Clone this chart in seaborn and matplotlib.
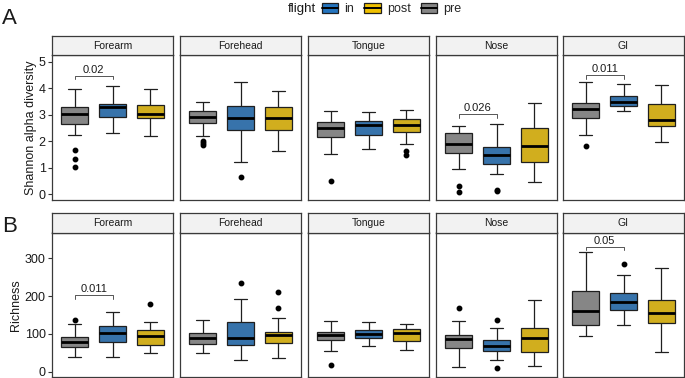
import numpy as np
import pandas as pd
import matplotlib
matplotlib.use("Agg")
import matplotlib.pyplot as plt
from matplotlib.patches import Patch
from matplotlib.lines import Line2D
import seaborn as sns

sites = ["Forearm", "Forehead", "Tongue", "Nose", "GI"]
groups = ["pre", "in", "post"]
colores = {"pre": "#868686", "in": "#2474BE", "post": "#EFC000"}

# resumen de cinco numeros por sitio: [bigote bajo, Q1, mediana, Q3, bigote alto]
shannon_pre = [[2.22, 2.63, 3.04, 3.27, 3.96], [2.20, 2.69, 2.90, 3.12, 3.47],
               [1.52, 2.14, 2.51, 2.74, 3.15], [0.94, 1.55, 1.91, 2.30, 2.58],
               [2.22, 2.86, 3.20, 3.43, 4.24]]
shannon_in = [[2.29, 2.90, 3.30, 3.42, 4.07], [1.23, 2.41, 2.89, 3.34, 4.22],
              [1.70, 2.25, 2.60, 2.75, 3.10], [0.77, 1.14, 1.48, 1.77, 2.66],
              [3.12, 3.34, 3.49, 3.69, 4.17]]
shannon_post = [[2.20, 2.86, 3.04, 3.37, 3.96], [1.63, 2.42, 2.88, 3.27, 3.89],
                [1.88, 2.36, 2.61, 2.83, 3.19], [0.45, 1.23, 1.82, 2.51, 3.43],
                [1.96, 2.59, 2.80, 3.42, 4.10]]
shannon_out_pre = [[1.65, 1.31, 1.02], [2.00, 1.92, 1.85], [0.48], [0.29, 0.10], [1.81]]
shannon_out_in = [[], [0.65], [], [0.17, 0.12], []]
shannon_out_post = [[], [], [1.62, 1.47], [], []]

richness_pre = [[39, 64, 79, 91, 125], [50, 74, 89, 102, 136],
                [56, 83, 97, 106, 133], [12, 62, 86, 97, 135],
                [95, 123, 161, 213, 317]]
richness_in = [[39, 78, 101, 122, 159], [32, 71, 88, 131, 192],
               [67, 88, 99, 111, 131], [30, 55, 68, 84, 116],
               [123, 162, 184, 209, 256]]
richness_post = [[49, 70, 94, 111, 132], [37, 77, 96, 104, 142],
                 [58, 82, 102, 113, 127], [16, 53, 89, 116, 190],
                 [51, 130, 156, 189, 274]]
richness_out_pre = [[138], [], [19], [168], []]
richness_out_in = [[], [235], [], [136, 9], [284]]
richness_out_post = [[178], [212, 168], [], [], []]

# comparaciones significativas: (sitio, altura, p)
shannon_sig = [("Forearm", 4.47, "0.02"), ("Nose", 3.02, "0.026"), ("GI", 4.50, "0.011")]
richness_sig = [("Forearm", 202, "0.011"), ("GI", 330, "0.05")]


def expandir(resumen, atipicos):
    # valores repetidos para que los cuartiles caigan exactamente en el resumen
    lo, q1, med, q3, hi = resumen
    return list(atipicos) + [lo] + [q1] * 10 + [med] * 10 + [q3] * 10 + [hi]


def armar_df(pre, inn, post, out_pre, out_in, out_post):
    filas = []
    for i, s in enumerate(sites):
        for g, res, out in [("pre", pre, out_pre), ("in", inn, out_in), ("post", post, out_post)]:
            for v in expandir(res[i], out[i]):
                filas.append({"site": s, "flight": g, "value": v})
    return pd.DataFrame(filas)


df_shannon = armar_df(shannon_pre, shannon_in, shannon_post,
                      shannon_out_pre, shannon_out_in, shannon_out_post)
df_rich = armar_df(richness_pre, richness_in, richness_post,
                   richness_out_pre, richness_out_in, richness_out_post)

sns.set_theme(style="white")
plt.rcParams["font.family"] = ["Liberation Sans", "DejaVu Sans"]

W, H = 685, 378
fig = plt.figure(figsize=(W / 100, H / 100), dpi=100)

lefts = [52, 180, 308, 436, 563]
ancho = 121
borde = "#3a3a3a"


def fila(df, sig, top_strip, top_body, bottom_body, ylim, yticks, ylabel, label_x):
    for j, s in enumerate(sites):
        x0 = lefts[j] / W
        ax = fig.add_axes([x0, 1 - bottom_body / H, ancho / W, (bottom_body - top_body) / H])
        sub = df[df["site"] == s]
        sns.boxplot(data=sub, x="flight", y="value", hue="flight", order=groups,
                    hue_order=groups, palette=colores, width=0.72, linecolor="#1f1f1f",
                    linewidth=0.9, legend=False, ax=ax,
                    flierprops=dict(marker="o", markerfacecolor="black",
                                    markeredgecolor="black", markersize=3.2),
                    medianprops=dict(linewidth=2.0, color="black"))
        ax.set_xlim(-0.6, 2.6)
        ax.set_ylim(*ylim)
        ax.set_xlabel("")
        ax.set_xticks([])
        ax.set_yticks(yticks)
        for sp in ax.spines.values():
            sp.set_color(borde)
            sp.set_linewidth(0.9)
        if j == 0:
            ax.tick_params(axis="y", left=True, length=3, width=0.8, color="#333333",
                           labelsize=9, labelcolor="#1a1a1a", pad=1.5)
            ax.set_ylabel(ylabel, fontsize=9, color="#1a1a1a")
            ax.yaxis.set_label_coords(label_x, 0.5)
        else:
            ax.set_yticklabels([])
            ax.tick_params(axis="y", left=False)
            ax.set_ylabel("")
        for sitio, yv, p in sig:
            if sitio == s:
                dy = (ylim[1] - ylim[0]) * 0.025
                ax.plot([0, 0, 1, 1], [yv - dy, yv, yv, yv - dy], color="#555555", lw=0.7)
                ax.text(0.5, yv + dy * 0.3, p, ha="center", va="bottom", fontsize=8,
                        color="#1a1a1a")
        # tira con el nombre del sitio
        st = fig.add_axes([x0, 1 - top_body / H, ancho / W, (top_body - top_strip) / H])
        st.set_facecolor("#F2F2F2")
        st.set_xticks([])
        st.set_yticks([])
        for sp in st.spines.values():
            sp.set_color(borde)
            sp.set_linewidth(0.9)
        st.text(0.5, 0.48, s, ha="center", va="center", fontsize=7.5, color="#1a1a1a",
                transform=st.transAxes)


fila(df_shannon, shannon_sig, 36, 55, 200, (-0.22, 5.25), [0, 1, 2, 3, 4, 5],
     "Shannon alpha diversity", -0.125)
fila(df_rich, richness_sig, 213, 232.5, 377, (-14, 368), [0, 100, 200, 300],
     "Richness", -0.245)

fig.text(2 / W, 1 - 18 / H, "A", fontsize=16, va="center", ha="left", color="#1a1a1a")
fig.text(2 / W, 1 - 226 / H, "B", fontsize=16, va="center", ha="left", color="#1a1a1a")

# leyenda arriba
orden_leyenda = ["in", "post", "pre"]
handles = [(Patch(facecolor=colores[g], edgecolor="#1f1f1f", linewidth=0.9),
            Line2D([], [], color="black", lw=1.4)) for g in orden_leyenda]
fig.text(288 / W, 1 - 9 / H, "flight", fontsize=9.5, va="center", ha="left", color="#1a1a1a")
fig.legend(handles, orden_leyenda, loc="center left", bbox_to_anchor=(322 / W, 1 - 9 / H),
           ncol=3, frameon=False, fontsize=9, handlelength=1.3, handleheight=0.9,
           handletextpad=0.5, columnspacing=0.8, borderpad=0, borderaxespad=0)

fig.savefig("out.png", dpi=100)
